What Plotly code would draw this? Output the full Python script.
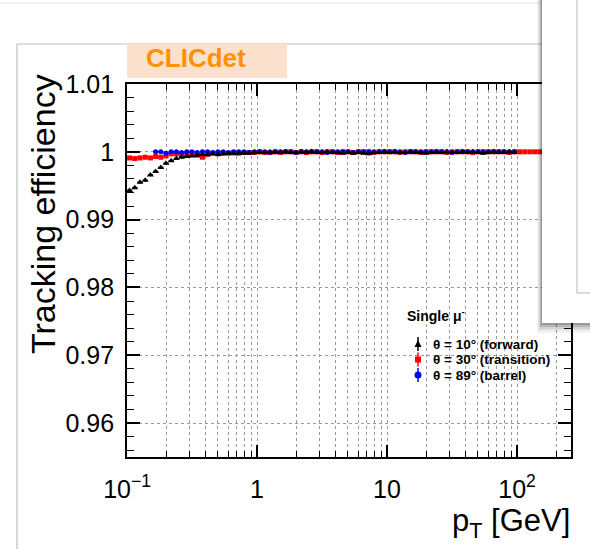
import plotly.graph_objects as go

# ---------------- data ----------------
# bin centres per decade (log-uniform bins, 25 per decade)
decade_centres = [1.047, 1.148, 1.259, 1.380, 1.514, 1.660, 1.820, 1.995, 2.188, 2.399,
                  2.630, 2.884, 3.162, 3.467, 3.802, 4.169, 4.571, 5.012, 5.495, 6.026,
                  6.607, 7.244, 7.943, 8.710, 9.550]
pt = [c * s for s in (0.1, 1.0, 10.0) for c in decade_centres] + [c * 100.0 for c in decade_centres[:10]]

eff_forward = [  # theta = 10 deg
    0.9943, 0.9947, 0.9955, 0.9958, 0.9966, 0.9971, 0.9977, 0.9983, 0.9987, 0.9990,
    0.9992, 0.9993, 0.9994, 0.9995, 0.9996, 0.9996, 0.9997, 0.9996, 0.9997, 0.9998,
    0.9997, 0.9998, 0.9998, 0.9998, 0.9999,
    0.9999, 0.9999, 1.0000, 0.9999, 0.9999, 1.0000, 0.9999, 0.9999, 1.0000, 0.9999,
    1.0000, 0.9999, 0.9999, 1.0000, 0.9999, 0.9999, 0.9998, 0.9999, 0.9998, 0.9999,
    0.9998, 0.9997, 0.9999, 0.9999, 1.0000,
    0.9999, 1.0000, 0.9999, 0.9999, 1.0000, 0.9999, 0.9999, 0.9998, 0.9999, 1.0000,
    0.9999, 1.0000, 0.9999, 0.9999, 1.0000, 0.9999, 1.0000, 0.9999, 0.9998, 0.9999,
    1.0000, 0.9999, 0.9999, 1.0000, 0.9999,
    None, None, None, None, None, None, None, None, None, None]

eff_transition = [  # theta = 30 deg
    0.9991, 0.9990, 0.9991, 0.9992, 0.9991, 0.9993, 0.9992, 0.9994, 0.9997, 0.9997,
    0.9996, 0.9997, 0.9996, 0.9995, 0.9992, 0.9996, 0.9998, 0.9997, 0.9998, 0.9998,
    0.9999, 0.9998, 0.9999, 0.9999, 0.9999,
    1.0000, 0.9999, 0.9999, 1.0000, 0.9999, 1.0000, 1.0000, 0.9999, 1.0000, 0.9999,
    1.0000, 1.0000, 0.9999, 1.0000, 1.0000, 0.9999, 1.0000, 1.0000, 0.9999, 1.0000,
    1.0000, 1.0000, 0.9999, 1.0000, 1.0000,
    1.0000, 1.0000, 0.9999, 1.0000, 1.0000, 1.0000, 0.9999, 1.0000, 1.0000, 1.0000,
    1.0000, 0.9999, 1.0000, 1.0000, 1.0000, 1.0000, 0.9999, 1.0000, 1.0000, 1.0000,
    1.0000, 1.0000, 1.0000, 0.9999, 1.0000,
    1.0000, 1.0000, 1.0000, 1.0000, 1.0000, 1.0000, 1.0000, 1.0000, 1.0000, 1.0000]

eff_barrel = [  # theta = 89 deg
    None, None, None, None, None, 1.0000, 1.0000, 0.9998, 1.0000, 1.0000,
    0.9999, 1.0000, 1.0000, 0.9999, 1.0000, 1.0000, 0.9999, 1.0000, 1.0000, 0.9999,
    1.0000, 1.0000, 1.0000, 0.9999, 1.0000,
    1.0000, 1.0000, 0.9999, 1.0000, 1.0000, 1.0000, 1.0000, 0.9999, 1.0000, 1.0000,
    1.0000, 1.0000, 1.0000, 0.9999, 1.0000, 1.0000, 1.0000, 1.0000, 0.9999, 1.0000,
    1.0000, 1.0000, 1.0000, 1.0000, 1.0000,
    1.0000, 1.0000, 1.0000, 0.9999, 1.0000, 1.0000, 1.0000, 1.0000, 1.0000, 1.0000,
    1.0000, 1.0000, 0.9999, 1.0000, 1.0000, 1.0000, 1.0000, 1.0000, 1.0000, 1.0000,
    1.0000, 1.0000, 1.0000, 1.0000, 1.0000,
    None, None, None, None, None, None, None, None, None, None]

x_tickvals = [0.1, 1, 10, 100]
x_ticktext = ["10<sup>\u22121</sup>", "1", "10", "10<sup>2</sup>"]
x_minor = [0.2, 0.3, 0.4, 0.5, 0.6, 0.7, 0.8, 0.9, 2, 3, 4, 5, 6, 7, 8, 9,
           20, 30, 40, 50, 60, 70, 80, 90, 200]
y_tickvals = [0.96, 0.97, 0.98, 0.99, 1.00, 1.01]
y_ticktext = ["0.96", "0.97", "0.98", "0.99", "1", "1.01"]

series_labels = ["\u03b8 = 10\u00b0 (forward)", "\u03b8 = 30\u00b0 (transition)", "\u03b8 = 89\u00b0 (barrel)"]

# ---------------- figure ----------------
HALF = 10 ** 0.02  # half bin width factor in log space
err_plus = [x * HALF - x for x in pt]
err_minus = [x - x / HALF for x in pt]

FONT = "Liberation Sans"
fig = go.Figure()


def add_series(y, color, symbol, size, yerr):
    fig.add_trace(go.Scatter(
        x=pt, y=y, mode="markers",
        marker=dict(color=color, symbol=symbol, size=size, line=dict(width=0)),
        error_x=dict(type="data", array=err_plus, arrayminus=err_minus, symmetric=False,
                     color=color, thickness=1.6, width=0),
        error_y=dict(type="constant", value=yerr, color=color, thickness=1.2, width=0),
        showlegend=False))


add_series(eff_transition, "#ff0000", "square", 5, 0.00015)
add_series(eff_barrel, "#0000ff", "circle", 5, 0.00012)
add_series(eff_forward, "#000000", "triangle-up", 6, 0.0002)

L, R, T, B = 127, 571, 84, 457
W, H = 590, 549


def px(x):
    return (x - L) / (R - L)


def py(y):
    return (B - y) / (B - T)


shapes = []
# page decorations (screenshot surroundings)
shapes.append(dict(type="line", xref="paper", yref="paper", x0=px(0), x1=px(W), y0=py(3), y1=py(3),
                   line=dict(color="#e4e4e4", width=1), layer="above"))
shapes.append(dict(type="line", xref="paper", yref="paper", x0=px(17), x1=px(17), y0=py(44), y1=py(H),
                   line=dict(color="#bdbdbd", width=1.2), layer="above"))
shapes.append(dict(type="line", xref="paper", yref="paper", x0=px(17), x1=px(W), y0=py(44), y1=py(44),
                   line=dict(color="#bdbdbd", width=1.2), layer="above"))
# CLICdet label box
shapes.append(dict(type="rect", xref="paper", yref="paper", x0=px(127), x1=px(287), y0=py(44), y1=py(78),
                   fillcolor="#fbe1cd", line=dict(width=0), layer="above"))
# legend box (white, hides the grid)
shapes.append(dict(type="rect", xref="paper", yref="paper", x0=px(400), x1=px(556), y0=py(300), y1=py(390),
                   fillcolor="white", line=dict(width=0), layer="between"))
# legend markers
leg_y = [344, 359.5, 375]
leg_col = ["#000000", "#ff0000", "#0000ff"]
mx = 418
for yy, col in zip(leg_y, leg_col):
    shapes.append(dict(type="line", xref="paper", yref="paper", x0=px(mx), x1=px(mx),
                       y0=py(yy - 7), y1=py(yy + 7), line=dict(color=col, width=1.5), layer="above"))
# triangle (black)
shapes.append(dict(type="path", xref="paper", yref="paper",
                   path="M %f,%f L %f,%f L %f,%f Z" % (px(mx - 3.5), py(leg_y[0] + 3), px(mx + 3.5), py(leg_y[0] + 3),
                                                    px(mx), py(leg_y[0] - 4)),
                   fillcolor="#000000", line=dict(width=0), layer="above"))
shapes.append(dict(type="rect", xref="paper", yref="paper", x0=px(mx - 3), x1=px(mx + 3),
                   y0=py(leg_y[1] + 3), y1=py(leg_y[1] - 3), fillcolor="#ff0000", line=dict(width=0), layer="above"))
shapes.append(dict(type="circle", xref="paper", yref="paper", x0=px(mx - 3.5), x1=px(mx + 3.5),
                   y0=py(leg_y[2] + 3.5), y1=py(leg_y[2] - 3.5), fillcolor="#0000ff", line=dict(width=0), layer="above"))

# overlay panel (screenshot artefact on the right) with soft shadow
for i, op in enumerate([0.04, 0.06, 0.09, 0.12, 0.16]):
    d = 5 - i
    shapes.append(dict(type="rect", xref="paper", yref="paper", x0=px(542 - d), x1=px(W + 5),
                       y0=py(323 + 2 * d), y1=py(-5), fillcolor="rgba(0,0,0,%.2f)" % op,
                       line=dict(width=0), layer="above"))
shapes.append(dict(type="rect", xref="paper", yref="paper", x0=px(542), x1=px(W + 5), y0=py(323), y1=py(-5),
                   fillcolor="white", line=dict(width=0), layer="above"))
shapes.append(dict(type="line", xref="paper", yref="paper", x0=px(577), x1=px(577), y0=py(0), y1=py(293),
                   line=dict(color="#c4c4c4", width=1.2), layer="above"))
shapes.append(dict(type="line", xref="paper", yref="paper", x0=px(577), x1=px(W + 5), y0=py(293), y1=py(293),
                   line=dict(color="#c4c4c4", width=1.2), layer="above"))

annotations = [
    dict(text="<b>CLICdet</b>", xref="paper", yref="paper", x=px(196), y=py(58), showarrow=False,
         xanchor="center", yanchor="middle", font=dict(family=FONT, size=26, color="#ff9100")),
    dict(text="Tracking efficiency", xref="paper", yref="paper", x=px(43), y=py(72), showarrow=False,
         textangle=-90, xanchor="center", yanchor="top", font=dict(family=FONT, size=34, color="black")),
    dict(text="p<sub>T</sub> [GeV]", xref="paper", yref="paper", x=px(572), y=py(523), showarrow=False,
         xanchor="right", yanchor="middle", font=dict(family=FONT, size=31, color="black")),
    dict(text="<b>Single \u03bc<sup>-</sup></b>", xref="paper", yref="paper", x=px(405), y=py(315), showarrow=False,
         xanchor="left", yanchor="middle", font=dict(family=FONT, size=14, color="black")),
]
for yy, lab in zip(leg_y, series_labels):
    annotations.append(dict(text="<b>%s</b>" % lab, xref="paper", yref="paper", x=px(432), y=py(yy),
                            showarrow=False, xanchor="left", yanchor="middle", borderpad=0,
                            font=dict(family=FONT, size=13.5, color="black")))

grid = dict(gridcolor="#9a9a9a", griddash="dot", gridwidth=1)
fig.update_layout(
    width=W, height=H, margin=dict(l=L, r=W - R, t=T, b=H - B, pad=0),
    paper_bgcolor="white", plot_bgcolor="white",
    font=dict(family=FONT, color="black"),
    shapes=shapes, annotations=annotations,
    xaxis=dict(type="log", range=[-1, 2.415], tickmode="array", tickvals=x_tickvals, ticktext=x_ticktext,
               ticks="inside", ticklen=12, tickwidth=1.5, tickcolor="black",
               showline=True, linecolor="black", linewidth=1.8, mirror="allticks",
               showgrid=True, **grid, zeroline=False,
               tickfont=dict(family=FONT, size=25), ticklabelstandoff=9,
               minor=dict(tickmode="array", tickvals=x_minor, ticks="inside", ticklen=6, tickwidth=1.2,
                          tickcolor="black", showgrid=True, gridcolor="#9a9a9a", griddash="dot", gridwidth=1)),
    yaxis=dict(range=[0.955, 1.01], tickmode="array", tickvals=y_tickvals, ticktext=y_ticktext,
               ticks="inside", ticklen=13, tickwidth=1.5, tickcolor="black",
               showline=True, linecolor="black", linewidth=1.8, mirror="allticks",
               showgrid=True, **grid, zeroline=False,
               tickfont=dict(family=FONT, size=25), ticklabelstandoff=6,
               minor=dict(dtick=0.002, tick0=0.96, ticks="inside", ticklen=7, tickwidth=1.2,
                          tickcolor="black", showgrid=False)),
)

fig.write_html("out.html")
